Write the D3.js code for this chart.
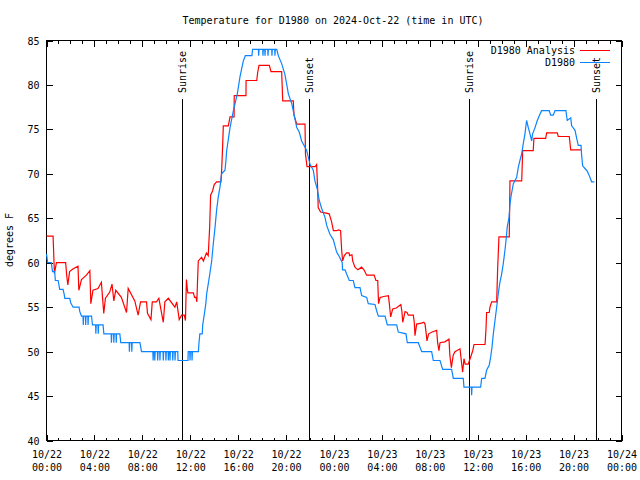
<!DOCTYPE html>
<html>
<head>
<meta charset="utf-8">
<script src="https://cdn.jsdelivr.net/npm/d3@7"></script>
<style>
  body { margin: 0; background: #fff; }
  svg { display: block; }
  text { font-family: "DejaVu Sans Mono", "Liberation Mono", monospace; font-size: 10px; fill: #000; }
</style>
</head>
<body>
<svg id="chart" width="640" height="480"></svg>
<script>
// hours since 2024-10-22 00:00 UTC
const redHours = [0, 0.55, 0.66, 0.83, 1.6, 1.67, 1.78, 1.93, 2.2, 2.63, 2.7, 2.92, 3.33, 3.62, 3.7, 3.88, 4.3, 4.58, 4.78, 4.92,
  5.28, 5.47, 5.62, 5.78, 6.25, 6.68, 6.82, 7.37, 7.65, 7.85, 8.35, 8.43, 8.72, 8.83, 9.18, 9.38, 9.75, 9.88, 10.17, 10.72,
  10.87, 11.08, 11.28, 11.5, 11.6, 11.68, 11.75, 11.8, 12.26, 12.36, 12.48, 12.55, 12.6, 12.67, 12.95, 13.1, 13.35, 13.5, 13.62, 13.7,
  13.87, 14.0, 14.2, 14.56, 14.62, 14.7, 14.76, 15.18, 15.32, 15.66, 15.67, 16.65, 16.66, 17.55, 17.63, 17.74, 18.6, 18.74, 19.63, 19.72,
  20.6, 20.66, 20.89, 21.58, 21.62, 21.75, 22.42, 22.55, 22.63, 22.68, 22.88, 23.25, 23.6, 23.8, 23.95, 24.2, 24.4, 24.55, 24.64, 24.72,
  24.86, 25.05, 25.25, 25.3, 25.5, 25.56, 25.75, 26.0, 26.3, 26.5, 26.73, 27.35, 27.5, 27.65, 27.72, 27.85, 28.15, 28.54, 28.62, 28.73,
  28.9, 29.2, 29.58, 29.67, 29.74, 29.93, 30.1, 30.2, 30.62, 30.7, 30.76, 30.9, 31.3, 31.5, 31.6, 31.7, 31.76, 31.9, 32.2, 32.57,
  32.65, 32.76, 32.85, 33.25, 33.6, 33.67, 33.8, 33.95, 34.1, 34.38, 34.52, 34.66, 34.74, 34.85, 34.95, 35.21, 35.41, 35.58, 35.69, 36.61,
  36.69, 36.74, 36.96, 37.02, 37.16, 37.58, 37.66, 37.77, 38.63, 38.69, 39.67, 39.75, 40.63, 40.69, 41.67, 41.75, 42.64, 42.72, 43.64, 43.76,
  44.62];
const redTemps = [63, 63, 58.8, 60, 60, 58.8, 57.5, 59, 59.3, 59.6, 56.9, 58.1, 58.6, 59.1, 55.4, 56.9, 57.1, 57.8, 54.3, 56,
  56.7, 57.6, 55.7, 56.9, 56.1, 54.4, 57.1, 55.7, 54.1, 55.6, 55.6, 54.3, 53.6, 55.6, 55.6, 56, 53.3, 55.6, 56, 55,
  55.6, 53.6, 54.1, 54.1, 53.5, 58.1, 57.1, 56.6, 56.6, 56.1, 56.1, 55.6, 57.6, 60.2, 60.6, 60.2, 61.1, 60.8, 64, 67.6,
  68.1, 68.8, 69.1, 69.1, 70.4, 73, 75.4, 75.4, 76.4, 76.4, 78.8, 78.8, 80.5, 80.5, 81.4, 82.2, 82.2, 81.5, 81.5, 78.2,
  78.2, 76.6, 75.6, 75.6, 72.2, 70.8, 70.8, 71.05, 68.5, 66.2, 65.7, 65.6, 65.5, 64.6, 63.6, 63.6, 63.7, 63.6, 61.4, 60.2,
  60.8, 61.1, 61.1, 60.8, 60.9, 60.2, 59.5, 59.2, 59.5, 59.2, 58.6, 58.6, 58, 58, 55.4, 56.1, 56.2, 56.3, 55.4, 53.9,
  54.8, 54.9, 55.3, 54.5, 53.3, 54.5, 54.4, 54.1, 54.1, 53.3, 51.8, 53.1, 53.2, 53.3, 53.1, 52, 51.2, 52, 52.2, 52.4,
  51, 50.1, 51, 51.1, 51.4, 49.6, 48.2, 49.6, 50, 50.2, 50.3, 48.6, 47.7, 49.2, 48.6, 48.6, 49.4, 50.1, 50.8, 50.8,
  52.6, 54.4, 54.4, 55, 55.6, 55.6, 59.3, 62.9, 62.9, 69.2, 69.2, 72.6, 72.6, 74, 74, 74.6, 74.6, 74.2, 74.2, 72.7,
  72.7];

const blueHours = [0, 0.1, 0.4, 0.5, 0.68, 0.74, 0.97, 1.1, 1.38, 1.47, 1.53, 1.94, 2.02, 2.22, 2.72, 2.78, 2.92, 3.05, 3.07, 3.1,
  3.25, 3.27, 3.3, 3.45, 3.47, 3.5, 3.76, 3.84, 4.1, 4.12, 4.15, 4.3, 4.32, 4.35, 4.72, 4.79, 5.4, 5.42, 5.45, 5.6,
  5.62, 5.65, 5.8, 5.82, 5.85, 6.12, 6.2, 6.9, 6.92, 6.95, 7.1, 7.12, 7.15, 7.8, 7.93, 8.88, 8.9, 8.93, 9.02, 9.04,
  9.07, 9.26, 9.28, 9.31, 9.45, 9.47, 9.5, 9.73, 9.75, 9.78, 9.95, 9.97, 10.0, 10.15, 10.17, 10.2, 10.29, 10.31, 10.34, 10.52,
  10.54, 10.57, 10.71, 10.73, 10.76, 10.96, 10.98, 11.81, 11.83, 11.96, 11.98, 12.01, 12.13, 12.15, 12.18, 12.68, 12.73, 12.8, 13.0, 13.04,
  13.15, 13.3, 13.37, 13.5, 13.65, 13.79, 13.92, 14.07, 14.2, 14.34, 14.48, 14.62, 14.9, 14.98, 15.04, 15.32, 15.6, 15.93, 16.15, 16.43,
  16.6, 17.15, 17.2, 17.69, 17.71, 17.74, 18.05, 18.07, 18.1, 18.22, 18.24, 18.27, 18.47, 18.49, 18.52, 18.8, 18.82, 18.85, 19.05, 19.07,
  19.1, 19.22, 19.35, 19.63, 19.9, 20.05, 20.19, 20.47, 20.6, 20.89, 21.1, 21.3, 21.58, 21.72, 21.85, 21.99, 22.27, 22.41, 22.6, 22.77,
  22.97, 23.25, 23.39, 23.66, 23.94, 24.08, 24.22, 24.44, 24.69, 24.71, 24.92, 25.06, 25.28, 25.61, 25.75, 26.17, 26.31, 26.73, 26.86, 27.42,
  27.56, 27.7, 28.26, 28.45, 29.23, 29.37, 30.01, 30.12, 31.04, 31.32, 32.15, 32.29, 32.85, 33.07, 33.82, 33.96, 34.79, 34.85, 35.47, 35.49,
  35.52, 36.24, 36.33, 36.6, 36.74, 36.96, 37.08, 37.19, 37.3, 37.44, 37.58, 37.71, 37.85, 37.99, 38.13, 38.27, 38.36, 38.46, 38.61, 38.69,
  38.77, 38.97, 39.25, 39.38, 39.52, 39.66, 39.8, 39.94, 40.08, 40.22, 40.36, 40.5, 40.58, 40.78, 40.97, 41.19, 41.33, 41.97, 42.09, 42.3,
  42.45, 43.36, 43.47, 43.76, 43.84, 44.12, 44.26, 44.39, 44.62, 44.67, 44.76, 44.95, 45.14, 45.31, 45.51, 45.73];
const blueTemps = [61, 60, 60, 59, 59, 58, 58, 57, 57, 56.5, 56, 56, 55.5, 55, 55, 54.5, 54, 54, 53, 54,
  54, 53, 54, 54, 53, 54, 54, 53, 53, 52, 53, 53, 52, 53, 53, 52, 52, 51, 52, 52,
  51, 52, 52, 51, 52, 52, 51, 51, 50, 51, 51, 50, 51, 51, 50, 50, 49, 50, 50, 49,
  50, 50, 49, 50, 50, 49, 50, 50, 49, 50, 50, 49, 50, 50, 49, 50, 50, 49, 50, 50,
  49, 50, 50, 49, 50, 50, 49, 49, 50, 50, 49, 50, 50, 49, 50, 50, 51, 52, 52, 53,
  54, 55.4, 56.5, 57.6, 58.9, 60.2, 62.1, 64, 65.9, 67.4, 68.5, 70, 70.4, 71.5, 72.6, 75.2, 77.1, 79, 80.9, 82.7,
  83.3, 83.3, 84, 84, 83.3, 84, 84, 83.3, 84, 84, 83.3, 84, 84, 83.3, 84, 84, 83.3, 84, 84, 83.3,
  84, 84, 83.3, 82.4, 81.2, 80.1, 79, 77.9, 77.1, 75.2, 74.7, 73.7, 73, 72.6, 71.9, 71.1, 70.4, 69.2, 68.3, 67,
  66.1, 65.1, 64.2, 63.2, 62.6, 61.9, 61.2, 60.7, 60, 59.2, 59.2, 58.7, 58, 58, 57.2, 57.2, 56.3, 56.1, 55.4, 55.3,
  54.6, 54, 54, 53, 53, 52.2, 52, 51, 51, 50, 50, 49, 49, 48, 48, 47, 47, 46, 46, 45.1,
  46, 46, 47, 47, 47.9, 48.5, 49.4, 50.5, 52, 53.5, 55, 56.5, 57.8, 58.7, 59.9, 61.4, 62.5, 64, 65.1, 66.6,
  67.4, 68.9, 69.6, 70.7, 71.5, 72.2, 73.4, 74.5, 76, 75.2, 74.5, 73.7, 74.5, 75.2, 76, 76.7, 77.1, 77.1, 76.6, 76.6,
  77.1, 77.1, 76, 76.3, 75.4, 74.9, 74, 73.2, 73.2, 72.1, 70.9, 70.6, 70.3, 69.8, 69.1, 69.1];

const eventNames = ["Sunrise", "Sunset", "Sunrise", "Sunset"];
const eventHours = [11.33, 21.93, 35.3, 45.9];

const seriesNames = ["D1980 Analysis", "D1980"];
const seriesColors = ["#ff0000", "#0a84ff"];
const yTicks = [40, 45, 50, 55, 60, 65, 70, 75, 80, 85];

const start = Date.UTC(2024, 9, 22);
const toDate = h => new Date(start + h * 3600e3);

const svg = d3.select("#chart");
const plotL = 46.5, plotR = 621.5, plotT = 40.5, plotB = 440.5;

const x = d3.scaleUtc()
  .domain([toDate(0), toDate(48)])
  .range([plotL, plotR]);
const y = d3.scaleLinear()
  .domain([40, 85])
  .range([plotB, plotT]);

const majorTicks = d3.utcHour.every(4).range(toDate(0), toDate(48.01));
const minorTicks = d3.utcHour.every(1).range(toDate(0), toDate(48.01));

// minor x ticks (bottom + top)
svg.append("g").attr("transform", `translate(0,${plotB})`)
  .call(d3.axisBottom(x).tickValues(minorTicks).tickSize(-3).tickFormat(""))
  .call(g => g.select(".domain").remove());
svg.append("g").attr("transform", `translate(0,${plotT})`)
  .call(d3.axisTop(x).tickValues(minorTicks).tickSize(-3).tickFormat(""))
  .call(g => g.select(".domain").remove());

// major x ticks with two-line labels
const fmtDay = d3.utcFormat("%m/%d"), fmtHour = d3.utcFormat("%H:%M");
svg.append("g").attr("transform", `translate(0,${plotB})`)
  .call(d3.axisBottom(x).tickValues(majorTicks).tickSize(-6).tickFormat(""))
  .call(g => g.select(".domain").remove())
  .call(g => g.selectAll(".tick").append("text")
    .attr("y", 17)
    .attr("text-anchor", "middle")
    .each(function(d) {
      const t = d3.select(this);
      t.append("tspan").attr("x", 0).text(fmtDay(d));
      t.append("tspan").attr("x", 0).attr("dy", 13).text(fmtHour(d));
    }));
svg.append("g").attr("transform", `translate(0,${plotT})`)
  .call(d3.axisTop(x).tickValues(majorTicks).tickSize(-6).tickFormat(""))
  .call(g => g.select(".domain").remove());

// y ticks (left with labels, right mirrored)
svg.append("g").attr("transform", `translate(${plotL},0)`)
  .call(d3.axisLeft(y).tickValues(yTicks).tickSize(-6).tickPadding(7))
  .call(g => g.select(".domain").remove())
  .call(g => g.selectAll("text").attr("dy", "0.35em"));
svg.append("g").attr("transform", `translate(${plotR},0)`)
  .call(d3.axisRight(y).tickValues(yTicks).tickSize(-6).tickFormat(""))
  .call(g => g.select(".domain").remove());

svg.selectAll(".tick line").attr("stroke", "#000").attr("shape-rendering", "crispEdges");
svg.selectAll(".tick text").attr("font-family", null).attr("font-size", null).attr("fill", null);

// frame
svg.append("rect")
  .attr("x", plotL).attr("y", plotT)
  .attr("width", plotR - plotL).attr("height", plotB - plotT)
  .attr("fill", "none").attr("stroke", "#000").attr("shape-rendering", "crispEdges");

// sunrise / sunset markers
const ev = svg.append("g");
eventHours.forEach((h, i) => {
  const ex = Math.round(x(toDate(h))) + 0.5;
  ev.append("line")
    .attr("x1", ex).attr("x2", ex)
    .attr("y1", 99).attr("y2", plotB)
    .attr("stroke", "#000").attr("shape-rendering", "crispEdges");
  ev.append("text")
    .attr("transform", `translate(${ex + 3.5},93) rotate(-90)`)
    .attr("text-anchor", "start")
    .text(eventNames[i]);
});

// series
const line = d3.line()
  .x(d => x(toDate(d[0])))
  .y(d => y(d[1]));

const redData = redHours.map((h, i) => [h, redTemps[i]]);
const blueData = blueHours.map((h, i) => [h, blueTemps[i]]);

svg.append("path")
  .datum(redData)
  .attr("fill", "none")
  .attr("stroke", seriesColors[0])
  .attr("stroke-width", 1.2)
  .attr("d", line);

svg.append("path")
  .datum(blueData)
  .attr("fill", "none")
  .attr("stroke", seriesColors[1])
  .attr("stroke-width", 1.2)
  .attr("d", line);

// legend
seriesNames.forEach((name, i) => {
  const ly = 50 + i * 12;
  svg.append("text")
    .attr("x", 575).attr("y", ly)
    .attr("dy", "0.35em")
    .attr("text-anchor", "end")
    .text(name);
  svg.append("line")
    .attr("x1", 580).attr("x2", 610)
    .attr("y1", ly + 0.5).attr("y2", ly + 0.5)
    .attr("stroke", seriesColors[i])
    .attr("shape-rendering", "crispEdges");
});

// title and axis label
svg.append("text")
  .attr("x", 333).attr("y", 20)
  .attr("dy", "0.35em")
  .attr("text-anchor", "middle")
  .text("Temperature for D1980 on 2024-Oct-22 (time in UTC)");

svg.append("text")
  .attr("transform", "translate(13,240) rotate(-90)")
  .attr("text-anchor", "middle")
  .text("degrees F");
</script>
</body>
</html>
